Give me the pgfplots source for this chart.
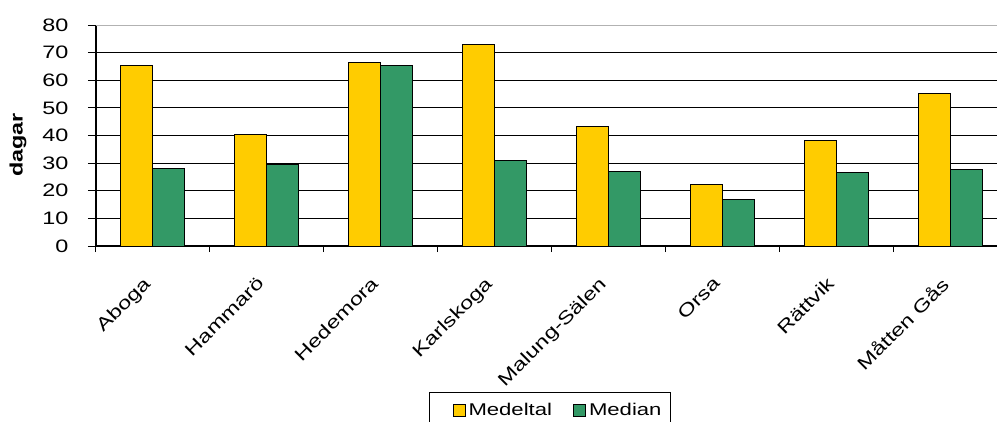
\documentclass[border=0pt]{standalone}
\usepackage{fontspec}
\setmainfont{Liberation Sans}[FakeStretch=1.3, BoldFeatures={FakeStretch=1.3}]
\usepackage{pgfplots}
\pgfplotsset{compat=1.18}
\definecolor{myyellow}{HTML}{FFCC00}
\definecolor{mygreen}{HTML}{339966}
\begin{document}
\begin{tikzpicture}
\useasboundingbox (-96pt,-175pt) rectangle (901pt,246pt);
\begin{axis}[
  scale only axis, width=901pt, height=221pt,
  ybar=0pt, bar width=32pt,
  ymin=0, ymax=80, xmin=-0.5, xmax=7.404,
  ytick={0,10,...,70},
  extra y ticks={80},
  extra y tick style={grid style={gray!60, line width=1pt}},
  ymajorgrids,
  grid style={black, line width=0.9pt},
  axis x line*=bottom, axis y line*=left,
  axis line style={black, line width=1.2pt},
  xtick={0,...,7},
  xticklabels={Aboga,Hammarö,Hedemora,Karlskoga,Malung-Sälen,Orsa,Rättvik,Måtten Gås},
  minor xtick={-0.5,0.5,...,7.5},
  tick align=outside,
  major tick length=8pt, minor tick length=6pt,
  every tick/.style={black, line width=1pt},
  every major x tick/.style={draw=none},
  /pgf/number format/assume math mode=true,
  yticklabel style={font=\fontsize{18}{21}\selectfont, black, xshift=-16pt},
  xticklabel style={font=\fontsize{18}{21}\selectfont, black, inner sep=1pt,
    xshift=-11pt, yshift=-20pt, rotate=45, anchor=north east},
  ylabel={dagar},
  ylabel style={font=\fontsize{18}{21}\bfseries, at={(axis description cs:-0.0866,0.457)}, anchor=center},
  area legend,
  legend image code/.code={\draw[#1, line width=0.9pt] (16pt,-6pt) rectangle (28pt,6pt); \path (0pt,0pt) (29pt,0pt);},
  legend columns=2,
  legend style={at={(axis description cs:0.3696,-0.661)}, anchor=north west,
    draw=black, line width=1pt, font=\fontsize{17}{20}\selectfont,
    /tikz/every even column/.append style={column sep=3pt},
    /tikz/every odd column/.append style={column sep=0pt},
    inner xsep=7pt, inner ysep=9pt},
]
\addplot[draw=black, line width=1pt, fill=myyellow] coordinates {
  (0,65.5) (1,40.2) (2,66.4) (3,73.0) (4,43.2) (5,22.1) (6,38.1) (7,55.3)};
\addplot[draw=black, line width=1pt, fill=mygreen] coordinates {
  (0,27.9) (1,29.6) (2,65.5) (3,30.8) (4,27.1) (5,17.0) (6,26.5) (7,27.8)};
\legend{Medeltal,Median}
\end{axis}
\end{tikzpicture}
\end{document}
